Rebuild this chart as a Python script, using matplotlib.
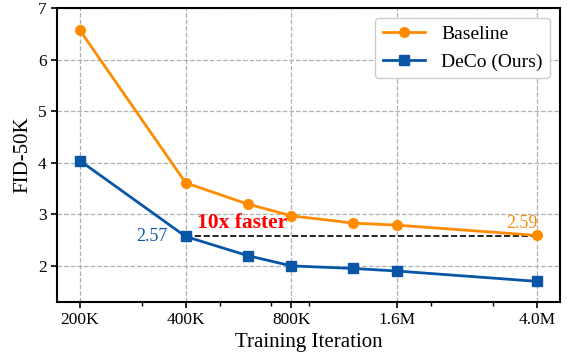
import matplotlib
matplotlib.use("Agg")
import matplotlib.pyplot as plt
from matplotlib.ticker import NullFormatter

iters = [200e3, 400e3, 600e3, 800e3, 1.2e6, 1.6e6, 4.0e6]
baseline = [6.57, 3.61, 3.20, 2.97, 2.83, 2.79, 2.59]
deco = [4.04, 2.57, 2.20, 2.00, 1.95, 1.90, 1.70]

major_ticks = [200e3, 400e3, 800e3, 1.6e6, 4.0e6]
major_labels = ["200K", "400K", "800K", "1.6M", "4.0M"]
minor_ticks = [300e3, 500e3, 700e3, 900e3, 2e6, 3e6]

ORANGE = "#ff8c00"
BLUE = "#0a56a6"

plt.rcParams["font.family"] = ["Liberation Serif", "DejaVu Serif"]

fig = plt.figure(figsize=(5.67, 3.56), dpi=100)
ax = fig.add_axes([0.1005, 0.1517, 0.8872, 0.8258])

ax.plot(iters, baseline, color=ORANGE, marker="o", ms=7, lw=2, label="Baseline")
ax.plot(iters, deco, color=BLUE, marker="s", ms=7, lw=2, label="DeCo (Ours)")

# speed-up marker: DeCo @400K matches baseline @4.0M
ax.plot([iters[1], iters[-1]], [deco[1], deco[1]], ls="--", color="black", lw=1.2, zorder=1)
ax.text(430e3, 2.63, "10x faster", color="red", fontsize=15.5, fontweight="bold",
        ha="left", va="bottom")
ax.text(iters[1] * 0.89, deco[1], f"{deco[1]:.2f}", color=BLUE, fontsize=13,
        ha="right", va="center")
ax.text(iters[-1], baseline[-1] + 0.06, f"{baseline[-1]:.2f}", color=ORANGE, fontsize=13,
        ha="right", va="bottom")

ax.set_xscale("log")
ax.set_xticks(major_ticks)
ax.set_xticklabels(major_labels)
ax.set_xticks(minor_ticks, minor=True)
ax.xaxis.set_minor_formatter(NullFormatter())
ax.set_ylim(1.3, 7)
ax.set_yticks([2, 3, 4, 5, 6, 7])

ax.tick_params(labelsize=12.5, width=1.2, length=4)
ax.tick_params(which="minor", width=1.0, length=3)
for s in ax.spines.values():
    s.set_linewidth(1.5)

ax.grid(True, ls="--", color="#b0b0b0", lw=0.9)
ax.set_axisbelow(True)
ax.set_xlabel("Training Iteration", fontsize=15, labelpad=3)
ax.set_ylabel("FID-50K", fontsize=15, labelpad=4)
ax.legend(loc="upper right", fontsize=14, handlelength=2.2, framealpha=1, edgecolor="#cccccc")

fig.savefig("out.png", dpi=100)
